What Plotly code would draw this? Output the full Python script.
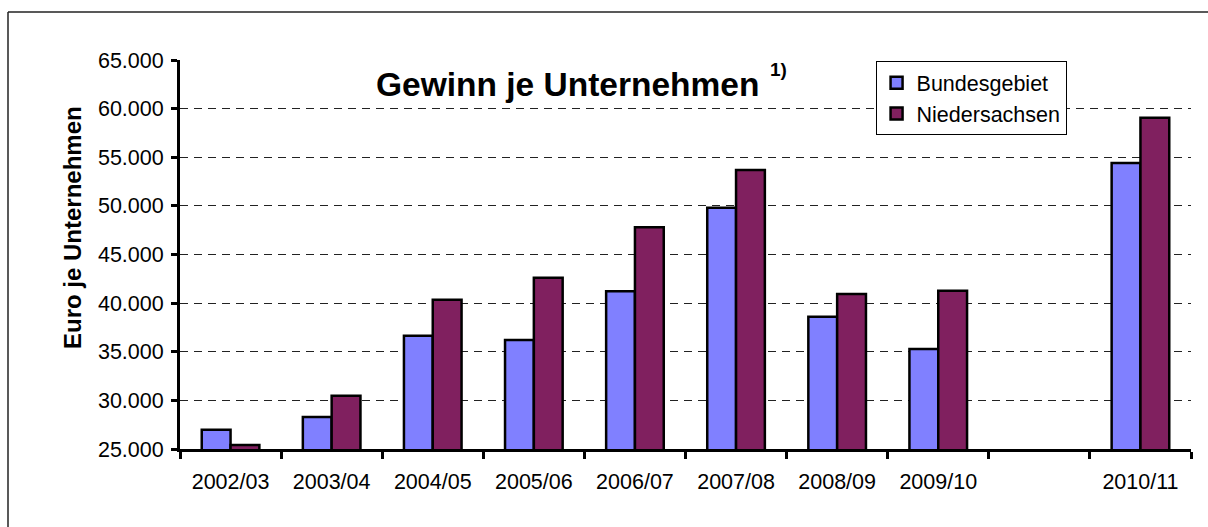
import plotly.graph_objects as go

categories = ["2002/03", "2003/04", "2004/05", "2005/06", "2006/07",
              "2007/08", "2008/09", "2009/10", " ", "2010/11"]
bundesgebiet = [26980, 28290, 36650, 36200, 41230, 49800, 38590, 35280, None, 54420]
niedersachsen = [25410, 30480, 40340, 42600, 47800, 53700, 40930, 41260, None, 59070]
y_ticks = [25000, 30000, 35000, 40000, 45000, 50000, 55000, 60000, 65000]

FONT = "Arial, Liberation Sans, Helvetica, sans-serif"

fig = go.Figure()
fig.add_trace(go.Bar(
    x=categories, y=bundesgebiet, name="Bundesgebiet", legendgroup="a",
    marker=dict(color="#8080FF", line=dict(color="black", width=2.5)),
))
fig.add_trace(go.Bar(
    x=categories, y=niedersachsen, name="Niedersachsen", legendgroup="b",
    marker=dict(color="#80205F", line=dict(color="black", width=2.5)),
))

fig.update_layout(
    width=1208, height=527,
    margin=dict(l=180, r=17, t=60, b=78),
    paper_bgcolor="white", plot_bgcolor="white",
    separators=",.",
    barmode="group", bargap=0.43, bargroupgap=0,
    font=dict(family=FONT, size=21.5, color="black"),
    showlegend=True,
    legend=dict(
        x=0.688, y=0.997, xanchor="left", yanchor="top",
        bgcolor="white", bordercolor="black", borderwidth=1,
        font=dict(family=FONT, size=21.5, color="black"),
        tracegroupgap=2, traceorder="normal",
    ),
    xaxis=dict(
        type="category", categoryorder="array", categoryarray=categories,
        showline=True, linecolor="black", linewidth=3,
        ticks="outside", tickson="boundaries", ticklen=7, tickwidth=3, tickcolor="black",
        showgrid=False, ticklabelstandoff=11,
        tickfont=dict(family=FONT, size=21.5, color="black"),
    ),
    yaxis=dict(
        range=[25000, 65000], tickvals=y_ticks, tickformat=",d",
        showline=True, linecolor="black", linewidth=3,
        ticks="outside", ticklen=6, tickwidth=3, tickcolor="black",
        showgrid=True, gridcolor="#222222", gridwidth=1, griddash="8px,6px",
        zeroline=False, ticklabelstandoff=3,
        tickfont=dict(family=FONT, size=21.5, color="black"),
    ),
    shapes=[
        dict(type="line", xref="paper", yref="paper",
             x0=(8 - 180) / 1011, x1=(1400 - 180) / 1011,
             y0=(449 - 12) / 389, y1=(449 - 12) / 389,
             line=dict(color="#222222", width=1.5), layer="below"),
        dict(type="line", xref="paper", yref="paper",
             x0=(8 - 180) / 1011, x1=(8 - 180) / 1011,
             y0=(449 - 12) / 389, y1=(449 - 600) / 389,
             line=dict(color="#222222", width=1.5), layer="below"),
    ],
    annotations=[
        dict(text="<b>Gewinn je Unternehmen</b>", xref="paper", yref="paper",
             x=(567 - 180) / 1011, y=(449 - 84) / 389, xanchor="center", yanchor="middle",
             showarrow=False, font=dict(family=FONT, size=33.5, color="black")),
        dict(text="<b>1)</b>", xref="paper", yref="paper",
             x=(778 - 180) / 1011, y=(449 - 69) / 389, xanchor="center", yanchor="middle",
             showarrow=False, font=dict(family=FONT, size=19, color="black")),
        dict(text="<b>Euro je Unternehmen</b>", xref="paper", yref="paper",
             x=(72 - 180) / 1011, y=(449 - 228) / 389, xanchor="center", yanchor="middle",
             textangle=-90, showarrow=False, font=dict(family=FONT, size=24, color="black")),
    ],
)

fig.write_html(
    "out.html",
    config={"displayModeBar": False},
    post_script="document.body.style.margin='0';document.body.style.overflow='hidden';",
)
